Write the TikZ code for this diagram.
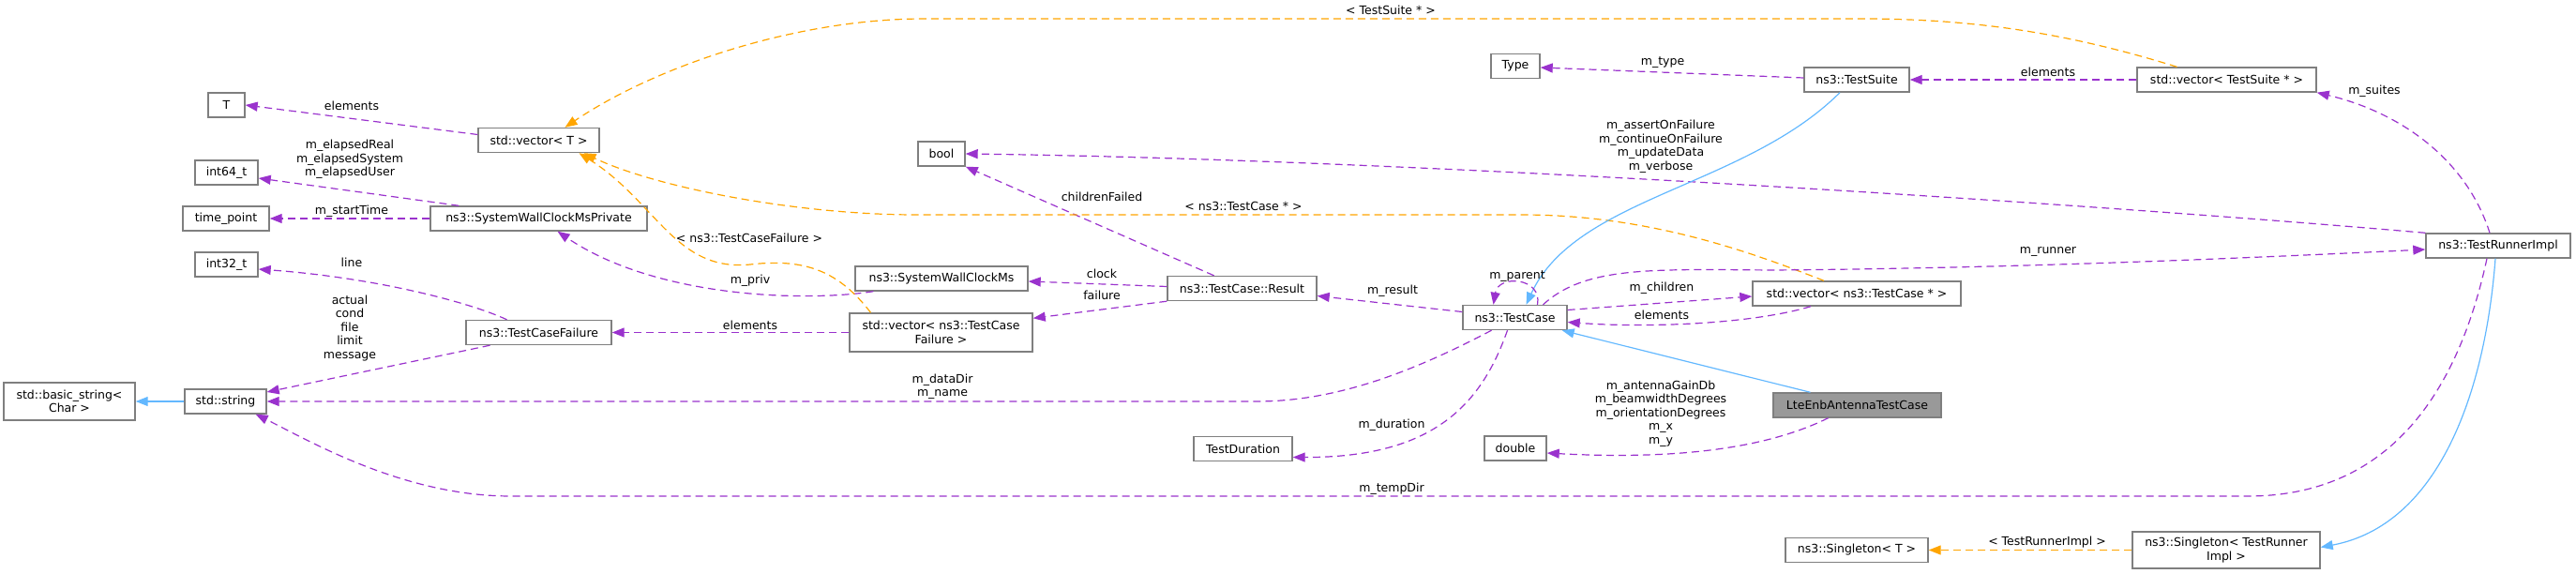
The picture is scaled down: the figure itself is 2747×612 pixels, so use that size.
\documentclass[tikz,border=0pt]{standalone}
\usepackage{fontspec}
\setmainfont{DejaVu Sans}
\usetikzlibrary{arrows.meta}
\definecolor{mpurple}{HTML}{9A32CD}
\definecolor{morange}{HTML}{FFA500}
\definecolor{mblue}{HTML}{63B8FF}
\definecolor{mborder}{HTML}{7F7F7F}
\definecolor{mfill}{HTML}{999999}
\begin{document}
\begin{tikzpicture}[x=1pt,y=-1pt,
  box/.style={draw=mborder, line width=1.4pt, fill=white, inner sep=0pt, minimum height=26pt, font=\fontsize{12.5}{14.5}\selectfont, align=center},
  lbl/.style={inner sep=0pt, font=\fontsize{12.5}{14.5}\selectfont, align=center},
  mem/.style={draw=mpurple, line width=1.2pt, dash pattern=on 8pt off 5pt, -{Triangle[length=13pt,width=10pt,fill=mpurple]}},
  tmpl/.style={draw=morange, line width=1.2pt, dash pattern=on 8pt off 5pt, -{Triangle[length=13pt,width=10pt,fill=morange]}},
  inh/.style={draw=mblue, line width=1.2pt, -{Triangle[length=13pt,width=10pt,fill=mblue]}}
]
\useasboundingbox (0,0) rectangle (2747,612);
% nodes
\node[box, minimum width=39pt] (T) at (241.5,112) {T};
\node[box, minimum width=129pt] (vecT) at (574.5,149.5) {std::vector< T >};
\node[box, minimum width=67pt] (int64) at (241.5,184) {int64\_t};
\node[box, minimum width=92pt] (timepoint) at (241,233) {time\_point};
\node[box, minimum width=231pt] (swcmp) at (574.5,233) {ns3::SystemWallClockMsPrivate};
\node[box, minimum width=67pt] (int32) at (241.5,282) {int32\_t};
\node[box, minimum width=155pt] (tcf) at (574.5,354.5) {ns3::TestCaseFailure};
\node[box, minimum width=140pt, minimum height=40pt] (basicstr) at (74,428) {std::basic\_string<\\Char >};
\node[box, minimum width=87pt] (string) at (240.5,428) {std::string};
\node[box, minimum width=50pt] (bool) at (1004,164) {bool};
\node[box, minimum width=184pt] (swcm) at (1004,297) {ns3::SystemWallClockMs};
\node[box, minimum width=159pt] (result) at (1324.5,307.5) {ns3::TestCase::Result};
\node[box, minimum width=195pt, minimum height=41pt] (vectcf) at (1003.5,354.5) {std::vector< ns3::TestCase\\Failure >};
\node[box, minimum width=105pt] (testduration) at (1325.5,478.5) {TestDuration};
\node[box, minimum width=52pt] (type) at (1616,70.5) {Type};
\node[box, minimum width=112pt] (testsuite) at (1980,85) {ns3::TestSuite};
\node[box, minimum width=111pt] (testcase) at (1615.5,338.5) {ns3::TestCase};
\node[box, minimum width=222pt] (vectc) at (1980,313) {std::vector< ns3::TestCase * >};
\node[box, minimum width=179pt, fill=mfill] (lte) at (1980.5,432) {LteEnbAntennaTestCase};
\node[box, minimum width=66pt] (double) at (1616,478) {double};
\node[box, minimum width=152pt] (singT) at (1980,586.5) {ns3::Singleton< T >};
\node[box, minimum width=191pt] (vects) at (2374.5,85) {std::vector< TestSuite * >};
\node[box, minimum width=154pt] (runner) at (2664,262) {ns3::TestRunnerImpl};
\node[box, minimum width=200pt, minimum height=39pt] (singR) at (2374,586.5) {ns3::Singleton< TestRunner\\Impl >};
% edges
\draw[mem] ([yshift=6pt]vecT.west) -- (T.east);
\draw[mem] ([xshift=31pt]swcmp.north west) -- ([yshift=-6pt]int64.east);
\draw[mem] (swcmp.west) -- (timepoint.east);
\draw[mem] ([xshift=-34pt]tcf.north) .. controls (500,322) and (400,296) .. ([yshift=-5pt]int32.east);
\draw[mem] ([xshift=-52pt]tcf.south) -- ([yshift=10pt]string.east);
\draw[mem] ([xshift=-25pt]testcase.south) .. controls (1500,400) and (1420,428) .. (1340,428) -- (string.east);
\draw[mem] ([xshift=-12pt]runner.south) .. controls (2625,400) and (2560,529) .. (2397,529) -- (545,529) .. controls (430,529) and (330,470) .. ([xshift=-12pt]string.south east);
\draw[inh] (string.west) -- (basicstr.east);
\draw[mem] (vectcf.west) -- (tcf.east);
\draw[mem] ([xshift=20pt]swcm.south west) .. controls (860,322) and (700,318) .. ([xshift=20pt]swcmp.south);
\draw[tmpl] ([xshift=-75pt]vectcf.north) .. controls (895,290) and (860,275) .. (800,282) .. controls (720,290) and (700,215) .. ([xshift=43pt]vecT.south);
\draw[mem] ([yshift=2pt]result.west) -- ([yshift=-3pt]swcm.east);
\draw[mem] (result.south west) -- ([yshift=-6pt]vectcf.north east);
\draw[mem] ([xshift=-30pt]result.north) -- (bool.south east);
\draw[mem] (runner.north west) .. controls (2200,215) and (1500,170) .. (bool.east);
\draw[tmpl] ([xshift=-35pt]vectc.north) .. controls (1870,270) and (1760,229) .. (1623,229) -- (977,229) .. controls (850,229) and (700,200) .. ([xshift=48pt]vecT.south);
\draw[mem] ([xshift=-9pt]runner.north) .. controls (2630,170) and (2560,120) .. (vects.south east);
\draw[mem] (vects.west) -- (testsuite.east);
\draw[mem] ([yshift=2pt]testsuite.west) -- ([yshift=-1.5pt]type.east);
\draw[tmpl] ([xshift=-53pt]vects.north) .. controls (2220,40) and (2120,20) .. (1986,20) -- (986,20) .. controls (850,20) and (700,70) .. ([xshift=28pt]vecT.north);
\draw[inh] ([xshift=-18pt]testsuite.south) .. controls (1860,200) and (1680,210) .. ([xshift=12pt]testcase.north);
\draw[inh] ([xshift=-50pt]lte.north) -- ([xshift=-6pt]testcase.south east);
\draw[mem] ([yshift=6pt]testcase.west) -- ([yshift=-8pt]result.east);
\draw[mem] ([xshift=24pt]testcase.north) .. controls (1645,296) and (1598,292) .. ([xshift=-23pt]testcase.north);
\draw[mem] ([yshift=8pt]testcase.east) -- ([yshift=-3pt]vectc.west);
\draw[mem] ([xshift=-49pt]vectc.south) .. controls (1870,345) and (1760,350) .. ([yshift=-5pt]testcase.east);
\draw[mem] ([xshift=30pt]testcase.north) .. controls (1690,284) and (1760,287) .. (1890,288) .. controls (2150,286) and (2400,275) .. ([yshift=-4pt]runner.west);
\draw[mem] ([xshift=-8pt]testcase.south) .. controls (1580,430) and (1530,488) .. ([yshift=-9pt]testduration.east);
\draw[mem] ([xshift=-31pt]lte.south) .. controls (1880,480) and (1780,490) .. ([yshift=-5pt]double.east);
\draw[inh] ([xshift=-3pt]runner.south) .. controls (2650,420) and (2600,560) .. ([yshift=3pt]singR.east);
\draw[tmpl] (singR.west) -- (singT.east);
% labels
\node[lbl] (l1) at (375,113) {elements};
\node[lbl] (l2) at (373,170) {m\_elapsedReal\\m\_elapsedSystem\\m\_elapsedUser};
\node[lbl] (l3) at (375,225) {m\_startTime};
\node[lbl] (l4) at (375,280) {line};
\node[lbl] (l5) at (373,350) {actual\\cond\\file\\limit\\message};
\node[lbl] (l6) at (1483,11) {< TestSuite * >};
\node[lbl] (l7) at (799,254) {< ns3::TestCaseFailure >};
\node[lbl] (l8) at (800,299) {m\_priv};
\node[lbl] (l9) at (800,347) {elements};
\node[lbl] (l10) at (1005,412) {m\_dataDir\\m\_name};
\node[lbl] (l11) at (1175,210) {childrenFailed};
\node[lbl] (l12) at (1326,220) {< ns3::TestCase * >};
\node[lbl] (l13) at (1175,292) {clock};
\node[lbl] (l14) at (1175,315) {failure};
\node[lbl] (l15) at (1773,67) {m\_type};
\node[lbl] (l16) at (1771,156) {m\_assertOnFailure\\m\_continueOnFailure\\m\_updateData\\m\_verbose};
\node[lbl] (l17) at (1618,295) {m\_parent};
\node[lbl] (l18) at (1485,310) {m\_result};
\node[lbl] (l19) at (1772,307) {m\_children};
\node[lbl] (l20) at (1772,336) {elements};
\node[lbl] (l21) at (1771,441) {m\_antennaGainDb\\m\_beamwidthDegrees\\m\_orientationDegrees\\m\_x\\m\_y};
\node[lbl] (l22) at (1484,453) {m\_duration};
\node[lbl] (l23) at (1484,521) {m\_tempDir};
\node[lbl] (l24) at (2184,77) {elements};
\node[lbl] (l25) at (2532,97) {m\_suites};
\node[lbl] (l26) at (2184,268) {m\_runner};
\node[lbl] (l27) at (2183,578) {< TestRunnerImpl >};
\end{tikzpicture}
\end{document}
